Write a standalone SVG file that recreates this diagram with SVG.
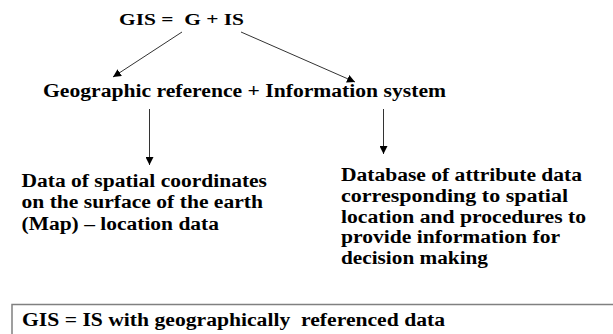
<svg xmlns="http://www.w3.org/2000/svg" width="613" height="334" viewBox="0 0 613 334">
<defs>
<marker id="ah" viewBox="0 0 10 10" refX="10" refY="5" markerWidth="8" markerHeight="8" markerUnits="userSpaceOnUse" orient="auto">
<path d="M0,0 L10,5 L0,10 z" fill="#000"/>
</marker>
<style>
text{font-family:"Liberation Serif","Times New Roman",serif;font-weight:bold;fill:#000;white-space:pre}
.t{font-size:17px}
.m{font-size:18px}
.c{stroke:#333;stroke-width:1;fill:none;marker-end:url(#ah)}
</style>
</defs>
<rect width="613" height="334" fill="#fff"/>
<g id="title"><text class="t" x="119" y="25" textLength="125" lengthAdjust="spacingAndGlyphs">GIS =  G + IS</text></g>
<g id="middle"><text class="m" x="43" y="97" textLength="403" lengthAdjust="spacingAndGlyphs">Geographic reference + Information system</text></g>
<g id="left"><text class="m" x="21.5" y="187" textLength="245.5" lengthAdjust="spacingAndGlyphs">Data of spatial coordinates</text><text class="m" x="21.5" y="208" textLength="241.5" lengthAdjust="spacingAndGlyphs">on the surface of the earth</text><text class="m" x="21.5" y="230" textLength="197.5" lengthAdjust="spacingAndGlyphs">(Map) – location data</text></g>
<g id="right"><text class="m" x="341" y="181" textLength="241" lengthAdjust="spacingAndGlyphs">Database of attribute data</text><text class="m" x="341" y="202" textLength="227" lengthAdjust="spacingAndGlyphs">corresponding to spatial</text><text class="m" x="341" y="223" textLength="245" lengthAdjust="spacingAndGlyphs">location and procedures to</text><text class="m" x="341" y="243" textLength="219" lengthAdjust="spacingAndGlyphs">provide information for</text><text class="m" x="341" y="264" textLength="147" lengthAdjust="spacingAndGlyphs">decision making</text></g>
<g id="summary"><rect x="12" y="304.5" width="610" height="40" fill="#fff" stroke="#808080" stroke-width="1.5"/><text class="m" x="22" y="326" textLength="423" lengthAdjust="spacingAndGlyphs">GIS = IS with geographically  referenced data</text></g>
<g id="connectors">
<line class="c" x1="182" y1="32" x2="113" y2="77"/>
<line class="c" x1="241" y1="32" x2="355" y2="82"/>
<line class="c" x1="149.5" y1="109" x2="149.5" y2="165"/>
<line class="c" x1="383.5" y1="109" x2="383.5" y2="154"/>
</g>
</svg>
